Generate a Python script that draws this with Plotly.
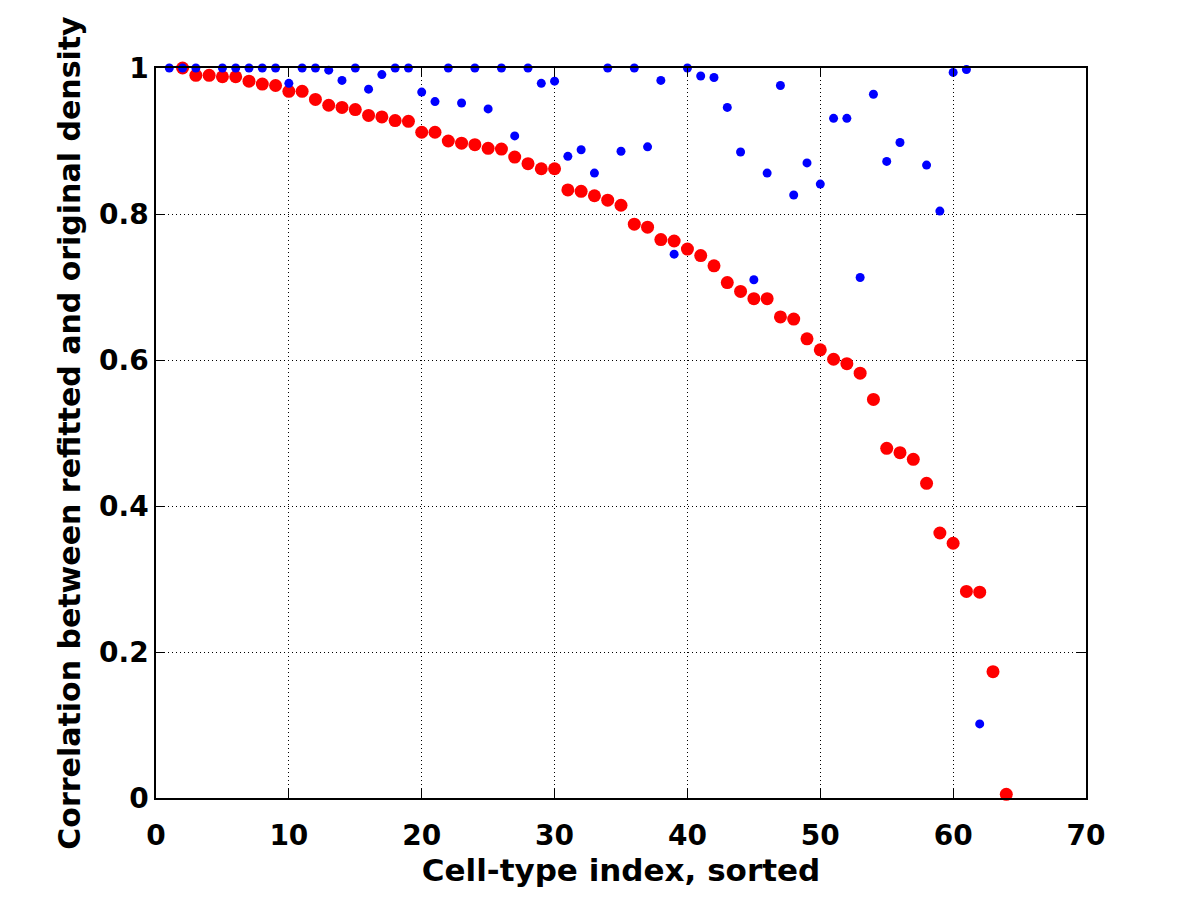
import plotly.graph_objects as go

# Data
red_index = list(range(2, 65))
red_values = [1.0, 0.990, 0.990, 0.988, 0.988, 0.982, 0.978, 0.976, 0.968, 0.968,
              0.957, 0.949, 0.946, 0.943, 0.935, 0.933, 0.928, 0.927, 0.912, 0.912,
              0.900, 0.897, 0.895, 0.890, 0.889, 0.878, 0.869, 0.862, 0.862, 0.833,
              0.831, 0.825, 0.819, 0.812, 0.786, 0.782, 0.765, 0.763, 0.752, 0.743,
              0.729, 0.706, 0.694, 0.684, 0.684, 0.659, 0.656, 0.629, 0.614, 0.601,
              0.595, 0.582, 0.546, 0.479, 0.473, 0.464, 0.431, 0.363, 0.349, 0.283,
              0.282, 0.173, 0.005]

blue_index = list(range(1, 63))
blue_values = [1.0, 1.0, 1.0, None, 1.0, 1.0, 1.0, 1.0, 1.0, 0.979,
               1.0, 1.0, 0.997, 0.983, 1.0, 0.971, 0.991, 1.0, 1.0, 0.967,
               0.954, 1.0, 0.952, 1.0, 0.944, 1.0, 0.907, 1.0, 0.979, 0.982,
               0.879, 0.888, 0.856, 1.0, 0.886, 1.0, 0.892, 0.983, 0.745, 1.0,
               0.989, 0.987, 0.946, 0.885, 0.710, 0.856, 0.976, 0.826, 0.870, 0.841,
               0.931, 0.931, 0.713, 0.964, 0.872, 0.898, None, 0.867, 0.804, 0.994,
               0.998, 0.1015]

x_ticks = [0, 10, 20, 30, 40, 50, 60, 70]
y_ticks = [0, 0.2, 0.4, 0.6, 0.8, 1]
y_tick_labels = ["0", "0.2", "0.4", "0.6", "0.8", "1"]

FONT = "DejaVu Sans"

fig = go.Figure()
fig.add_trace(go.Scatter(x=red_index, y=red_values, mode="markers",
                         marker=dict(color="#ff0000", size=13, line=dict(width=0)),
                         cliponaxis=False, showlegend=False))
fig.add_trace(go.Scatter(x=blue_index, y=blue_values, mode="markers",
                         marker=dict(color="#0000ff", size=9, line=dict(width=0)),
                         cliponaxis=False, showlegend=False))

axis_common = dict(
    showline=True, linecolor="black", linewidth=1.5, mirror="ticks",
    ticks="inside", ticklen=9, tickwidth=1, tickcolor="black",
    showgrid=True, gridcolor="black", gridwidth=1, griddash="1px,3px",
    zeroline=False,
    tickfont=dict(family=FONT, size=28, color="black", weight="bold"),
)

fig.update_xaxes(range=[0, 70], tickvals=x_ticks,
                 ticklabelstandoff=12,
                 title=dict(text="Cell-type index, sorted",
                            font=dict(family=FONT, size=31, color="black", weight="bold"),
                            standoff=6),
                 **axis_common)
fig.update_yaxes(range=[0, 1], tickvals=y_ticks, ticktext=y_tick_labels,
                 ticklabelstandoff=0,
                 title=dict(text="Correlation between refitted and original density",
                            font=dict(family=FONT, size=30, color="black", weight="bold"),
                            standoff=10),
                 **axis_common)

fig.update_layout(
    width=1184, height=884,
    margin=dict(l=148, r=106, t=60, b=92),
    paper_bgcolor="white", plot_bgcolor="white",
)

fig.write_html("out.html")
